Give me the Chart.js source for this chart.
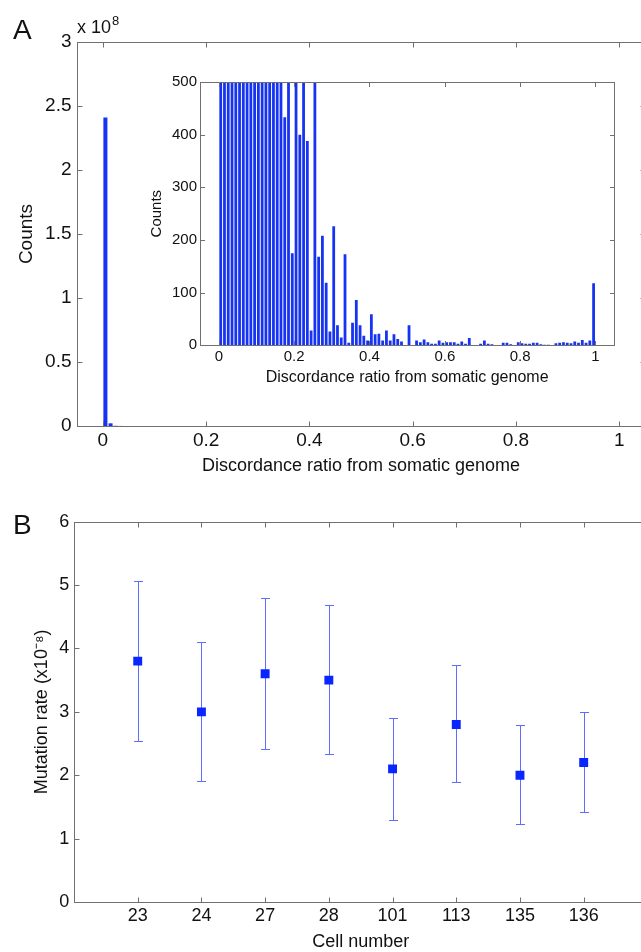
<!DOCTYPE html>
<html>
<head>
<meta charset="utf-8">
<script src="https://cdn.jsdelivr.net/npm/chart.js@4.4.1/dist/chart.umd.min.js"></script>
<style>
  html, body { margin: 0; padding: 0; background: #fff; overflow: hidden; }
  #fig { position: relative; width: 641px; height: 952px; overflow: hidden;
         font-family: "Liberation Sans", Arial, Helvetica, sans-serif; color: #111; }
  #fig canvas { position: absolute; }
  .lbl { position: absolute; line-height: 1; white-space: nowrap; }
</style>
</head>
<body>
<div id="fig">
  <canvas id="mainA" width="680" height="490" style="left:0;top:0"></canvas>
  <canvas id="insetA" width="500" height="330" style="left:130px;top:70px"></canvas>
  <canvas id="panelB" width="680" height="452" style="left:0;top:500px"></canvas>
  <div class="lbl" style="left:13px;top:16px;font-size:28px">A</div>
  <div class="lbl" style="left:77px;top:18px;font-size:18px">x 10<span style="font-size:13px;position:relative;top:-8px;margin-left:1px">8</span></div>
  <div class="lbl" style="left:13px;top:511px;font-size:28px">B</div>
</div>

<script>
// ---- panel A: histogram of discordance ratio, bins of 0.01 ----
const ratioTicks = [0, 0.2, 0.4, 0.6, 0.8, 1];
const counts = [
  241000000, 2100000, 160000, 52000, 21000, 11000, 6800, 4500, 3100, 2300,
  1800, 1400, 1100, 900, 760, 640, 560, 433, 520, 175,
  610, 400, 530, 388, 28, 720, 168, 208, 119, 26,
  226, 38, 15, 173, 5, 43, 86, 38, 18, 9,
  59, 21, 22, 9, 28, 9, 21, 12, 7, 0,
  38, 0, 9, 6, 11, 6, 3, 3, 9, 5,
  6, 6, 6, 3, 7, 3, 14, 0, 0, 3,
  9, 3, 2, 0, 0, 5, 5, 2, 0, 6,
  4, 3, 3, 5, 5, 2, 1, 1, 0, 4,
  5, 6, 5, 4, 7, 5, 10, 5, 9, 118
];
const binCenters = counts.map((_, i) => (i + 0.5) / 100);

// ---- panel B: mutation rate per cell ----
const cells = ['23', '24', '27', '28', '101', '113', '135', '136'];
const rate = [3.80, 3.00, 3.60, 3.50, 2.10, 2.80, 2.00, 2.20];
const rateLow = [2.54, 1.91, 2.41, 2.33, 1.30, 1.89, 1.23, 1.42];
const rateHigh = [5.07, 4.10, 4.80, 4.68, 2.90, 3.74, 2.80, 3.00];

const barBlue = '#1633f2';
const markerBlue = '#0a26ff';
const errBlue = '#5c6dff';
const axisGrey = '#707070';
const ink = '#111';

Chart.defaults.font.family = '"Liberation Sans", Arial, Helvetica, sans-serif';
Chart.defaults.color = ink;

// matlab style box with inward ticks on all four sides
const frameTicks = {
  id: 'frameTicks',
  afterDatasetsDraw(chart, args, opts) {
    const { ctx, chartArea: a, scales: { x, y } } = chart;
    const len = opts.len || 5;
    ctx.save();
    ctx.strokeStyle = axisGrey;
    ctx.lineWidth = 1;
    const l = Math.round(a.left) + 0.5, r = Math.round(a.right) + 0.5;
    const t = Math.round(a.top) + 0.5, b = Math.round(a.bottom) + 0.5;
    ctx.strokeRect(l, t, r - l, b - t);
    ctx.beginPath();
    x.ticks.forEach(tk => {
      const px = Math.round(x.getPixelForValue(tk.value)) + 0.5;
      ctx.moveTo(px, b); ctx.lineTo(px, b - len);
      ctx.moveTo(px, t); ctx.lineTo(px, t + len);
    });
    y.ticks.forEach(tk => {
      const py = Math.round(y.getPixelForValue(tk.value)) + 0.5;
      ctx.moveTo(l, py); ctx.lineTo(l + len, py);
      ctx.moveTo(r, py); ctx.lineTo(r - len, py);
    });
    ctx.stroke();
    ctx.restore();
  }
};

const errorBars = {
  id: 'errorBars',
  beforeDatasetsDraw(chart) {
    const { ctx, scales: { x, y } } = chart;
    ctx.save();
    ctx.strokeStyle = errBlue;
    ctx.lineWidth = 1;
    ctx.beginPath();
    rate.forEach((_, i) => {
      const px = Math.round(x.getPixelForValue(i)) + 0.5;
      const lo = Math.round(y.getPixelForValue(rateLow[i])) + 0.5;
      const hi = Math.round(y.getPixelForValue(rateHigh[i])) + 0.5;
      ctx.moveTo(px, lo); ctx.lineTo(px, hi);
      ctx.moveTo(px - 4.5, lo); ctx.lineTo(px + 4.5, lo);
      ctx.moveTo(px - 4.5, hi); ctx.lineTo(px + 4.5, hi);
    });
    ctx.stroke();
    ctx.restore();
  }
};

const histPoints = binCenters.map((x, i) => ({ x, y: counts[i] }));
const noGrid = { display: false, drawTicks: false };
const noBorder = { display: false };

// main histogram
new Chart(document.getElementById('mainA'), {
  type: 'bar',
  data: {
    datasets: [{
      data: histPoints,
      backgroundColor: barBlue,
      borderWidth: 0,
      barPercentage: 0.78,
      categoryPercentage: 1,
      clip: 0
    }]
  },
  options: {
    responsive: false,
    animation: false,
    events: [],
    layout: { padding: { top: 42, right: 35, left: 0, bottom: 0 } },
    plugins: { legend: { display: false }, tooltip: { enabled: false }, frameTicks: { len: 5 } },
    scales: {
      x: {
        type: 'linear', min: -0.05, max: 1.05, offset: false,
        grid: noGrid, border: noBorder,
        afterBuildTicks: s => { s.ticks = ratioTicks.map(v => ({ value: v })); },
        afterFit: s => { s.height = 64; },
        ticks: { font: { size: 19 }, padding: 3, maxRotation: 0, callback: v => String(v) },
        title: { display: true, text: 'Discordance ratio from somatic genome',
                 font: { size: 18 }, padding: { top: 0, bottom: 13 } }
      },
      y: {
        min: 0, max: 300000000,
        grid: noGrid, border: noBorder,
        afterFit: s => { s.width = 77; },
        ticks: { stepSize: 50000000, font: { size: 19 }, padding: 5.5, callback: v => String(v / 1e8) },
        title: { display: true, text: 'Counts', font: { size: 19 }, padding: { top: 15.6, bottom: 0 } }
      }
    }
  },
  plugins: [frameTicks]
});

// inset: same histogram, counts clipped at 500
new Chart(document.getElementById('insetA'), {
  type: 'bar',
  data: {
    datasets: [{
      data: histPoints,
      backgroundColor: barBlue,
      borderWidth: 0,
      barPercentage: 0.74,
      categoryPercentage: 1,
      clip: 0
    }]
  },
  options: {
    responsive: false,
    animation: false,
    events: [],
    layout: { padding: { top: 10.7, right: 15.7, left: 0, bottom: 0 } },
    plugins: { legend: { display: false }, tooltip: { enabled: false }, frameTicks: { len: 4.5 } },
    scales: {
      x: {
        type: 'linear', min: -0.05, max: 1.05, offset: false,
        grid: noGrid, border: noBorder,
        afterBuildTicks: s => { s.ticks = ratioTicks.map(v => ({ value: v })); },
        afterFit: s => { s.height = 54.7; },
        ticks: { font: { size: 15 }, padding: 2.4, maxRotation: 0, callback: v => String(v) },
        title: { display: true, text: 'Discordance ratio from somatic genome',
                 font: { size: 16 }, padding: { top: 0, bottom: 12.4 } }
      },
      y: {
        min: 0, max: 500,
        grid: noGrid, border: noBorder,
        afterFit: s => { s.width = 70; },
        ticks: { stepSize: 100, font: { size: 15 }, padding: 3 },
        title: { display: true, text: 'Counts', font: { size: 15 }, padding: { top: 17.7, bottom: 0 } }
      }
    }
  },
  plugins: [frameTicks]
});

// panel B
new Chart(document.getElementById('panelB'), {
  type: 'scatter',
  data: {
    datasets: [{
      data: rate.map((v, i) => ({ x: i, y: v })),
      pointStyle: 'rect',
      pointRadius: 6.3,
      backgroundColor: markerBlue,
      borderColor: markerBlue,
      borderWidth: 0
    }]
  },
  options: {
    responsive: false,
    animation: false,
    events: [],
    layout: { padding: { top: 21.7, right: 32.6, left: 0, bottom: 0 } },
    plugins: { legend: { display: false }, tooltip: { enabled: false }, frameTicks: { len: 5 } },
    scales: {
      x: {
        type: 'linear', min: -1, max: 8,
        grid: noGrid, border: noBorder,
        afterBuildTicks: s => { s.ticks = cells.map((_, i) => ({ value: i })); },
        afterFit: s => { s.height = 50; },
        ticks: { font: { size: 18 }, padding: 3.2, maxRotation: 0, callback: v => cells[v] },
        title: { display: true, text: 'Cell number', font: { size: 18, lineHeight: 1 },
                 padding: { top: 0, bottom: 1 } }
      },
      y: {
        min: 0, max: 6,
        grid: noGrid, border: noBorder,
        afterFit: s => { s.width = 74; },
        ticks: { stepSize: 1, font: { size: 18 }, padding: 4.7 },
        title: { display: true, text: 'Mutation rate (x10\u207B\u2078)', font: { size: 18 },
                 padding: { top: 31, bottom: 0 } }
      }
    }
  },
  plugins: [frameTicks, errorBars]
});
</script>
</body>
</html>
